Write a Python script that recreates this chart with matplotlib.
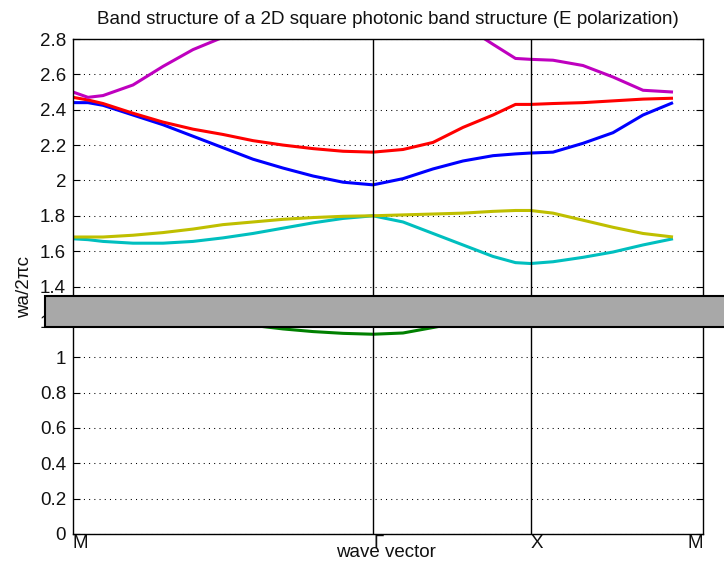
import matplotlib
matplotlib.use("Agg")
import matplotlib.pyplot as plt
from matplotlib.patches import Rectangle

# k-path sample positions (M -> Gamma -> X -> M)
k = [0, 1, 2, 4, 6, 8, 10, 12, 14, 16, 18, 20, 22, 24, 26, 28, 29.5, 30.5, 32, 34, 36, 38, 40]

band_green = [1.26, 1.26, 1.255, 1.245, 1.23, 1.21, 1.195, 1.18, 1.16, 1.145, 1.135, 1.13,
              1.137, 1.168, 1.20, 1.23, 1.245, 1.25, 1.255, 1.26, 1.265, 1.265, 1.265]
band_cyan = [1.67, 1.665, 1.655, 1.645, 1.645, 1.655, 1.675, 1.70, 1.73, 1.76, 1.785, 1.80,
             1.765, 1.70, 1.635, 1.57, 1.535, 1.53, 1.54, 1.565, 1.595, 1.635, 1.67]
band_yellow = [1.68, 1.68, 1.68, 1.69, 1.705, 1.725, 1.75, 1.765, 1.78, 1.79, 1.797, 1.80,
               1.805, 1.81, 1.815, 1.825, 1.83, 1.83, 1.815, 1.775, 1.735, 1.70, 1.68]
band_blue = [2.44, 2.44, 2.425, 2.37, 2.315, 2.25, 2.185, 2.12, 2.07, 2.025, 1.99, 1.975,
             2.01, 2.065, 2.11, 2.14, 2.15, 2.155, 2.16, 2.21, 2.27, 2.37, 2.44]
band_red = [2.47, 2.455, 2.435, 2.38, 2.33, 2.29, 2.26, 2.225, 2.20, 2.18, 2.165, 2.16,
            2.175, 2.215, 2.30, 2.37, 2.43, 2.43, 2.435, 2.44, 2.45, 2.46, 2.465]
band_magenta = [2.50, 2.47, 2.48, 2.54, 2.645, 2.74, 2.81, 2.87, 2.93, 2.98, 3.01, 3.02,
                3.00, 2.95, 2.88, 2.77, 2.69, 2.685, 2.68, 2.65, 2.585, 2.51, 2.50]

bands = [band_green, band_cyan, band_yellow, band_blue, band_red, band_magenta]
band_colors = [(0, 0.5, 0), (0, 0.75, 0.75), (0.75, 0.75, 0), (0, 0, 1), (1, 0, 0), (0.75, 0, 0.75)]

# symmetry points on the wave-vector axis
sym_pos = [0, 20, 30.5, 42]
sym_labels = ["M", "Γ", "X", "M"]

# photonic band gap
gap_lo, gap_hi = 1.172, 1.346

y_ticks = [0, 0.2, 0.4, 0.6, 0.8, 1, 1.2, 1.4, 1.6, 1.8, 2, 2.2, 2.4, 2.6, 2.8]
y_ticklabels = ["0", "0.2", "0.4", "0.6", "0.8", "1", "1.2", "1.4", "1.6", "1.8", "2", "2.2", "2.4", "2.6", "2.8"]

plt.rcParams["font.family"] = ["Liberation Sans", "DejaVu Sans"]
plt.rcParams["font.size"] = 13.5

fig = plt.figure(figsize=(7.24, 5.62), dpi=100)
ax = fig.add_axes([73 / 724, 1 - 534 / 562, 630 / 724, 495 / 562])

for vals, col in zip(bands, band_colors):
    ax.plot(k, vals, color=col, lw=2.2, solid_capstyle="butt")

ax.axvline(sym_pos[1], color="black", lw=1.0)
ax.axvline(sym_pos[2], color="black", lw=1.0)

ax.set_xlim(sym_pos[0], sym_pos[-1])
ax.set_ylim(0, 2.8)
ax.set_yticks(y_ticks)
ax.set_yticklabels(y_ticklabels)
ax.set_xticks(sym_pos)
ax.set_xticklabels(sym_labels)
for i, lab in enumerate(ax.get_xticklabels()):
    lab.set_horizontalalignment("right" if i == len(sym_labels) - 1 else "left")

ax.yaxis.grid(True, color="black", linestyle=(0, (1, 4)), lw=0.75)
ax.tick_params(axis="both", direction="in", length=5, width=0.8, colors="black",
               right=True, top=True, labelcolor="#111111")
ax.tick_params(axis="y", pad=5)
ax.tick_params(axis="x", pad=0.5, length=0)
for s in ax.spines.values():
    s.set_linewidth(1.0)

ax.set_title("Band structure of a 2D square photonic band structure (E polarization)",
             pad=11, fontsize=13.5, color="#111111")
ax.set_xlabel("wave vector", color="#111111")
ax.xaxis.label.set_verticalalignment("baseline")
ax.xaxis.set_label_coords(0.496, -0.047)
ax.set_ylabel("wa/2πc", color="#111111")
ax.yaxis.set_label_coords(-0.064, 0.5)

gap = Rectangle((-1.9, gap_lo), 48, gap_hi - gap_lo, facecolor="#a8a8a8",
                edgecolor="black", lw=1.5, clip_on=False, zorder=10)
ax.add_patch(gap)

fig.savefig("out.png", dpi=100)
